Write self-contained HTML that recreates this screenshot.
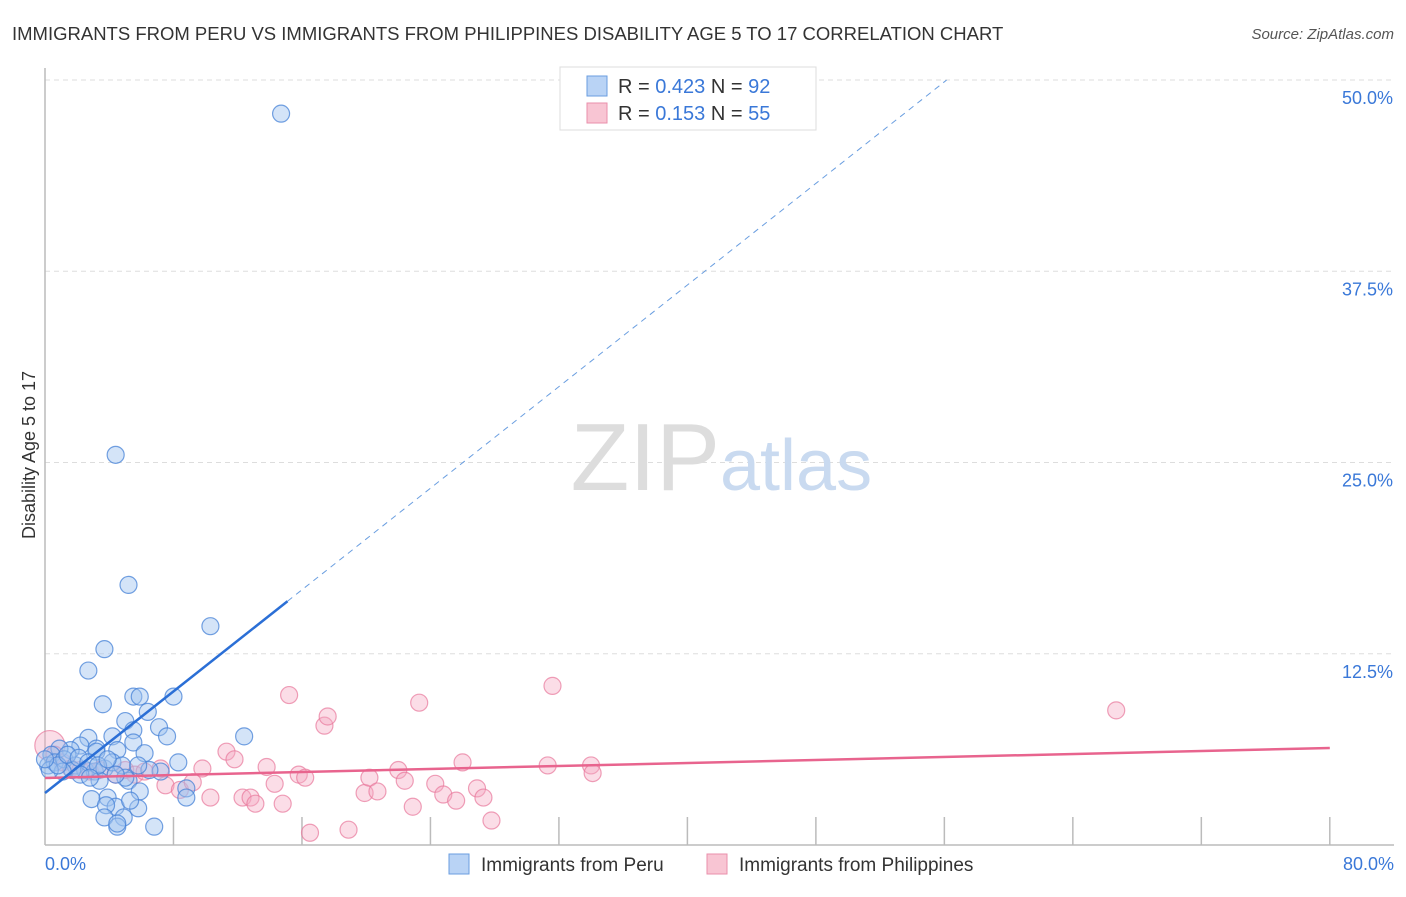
<!DOCTYPE html>
<html><head><meta charset="utf-8"><style>
body{margin:0;background:#fff;font-family:"Liberation Sans",sans-serif;}
svg text{font-family:"Liberation Sans",sans-serif;}
</style></head><body>
<svg width="1406" height="892" xmlns="http://www.w3.org/2000/svg">
<text x="12" y="40" font-size="18.5" fill="#333">IMMIGRANTS FROM PERU VS IMMIGRANTS FROM PHILIPPINES DISABILITY AGE 5 TO 17 CORRELATION CHART</text>
<text x="1394" y="39" font-size="15" fill="#555" font-style="italic" text-anchor="end">Source: ZipAtlas.com</text>
<g id="grid"></g>
<text x="720" y="490" font-size="96" fill="#ddd" text-anchor="end" font-family="Liberation Serif">ZIP</text>
<text x="720" y="490" font-size="72" fill="#c9daf0">atlas</text>
<line x1="45" y1="68" x2="45" y2="845" stroke="#bbb" stroke-width="1.5"/>
<line x1="45" y1="845" x2="1394" y2="845" stroke="#bbb" stroke-width="1.5"/>
<g id="ticks"></g>
<text x="35" y="455" font-size="18" fill="#333" text-anchor="middle" transform="rotate(-90 35 455)">Disability Age 5 to 17</text>
<text x="45" y="870" font-size="18" fill="#3a78d8">0.0%</text>
<text x="1394" y="870" font-size="18" fill="#3a78d8" text-anchor="end">80.0%</text>
<g id="pts"></g>
<g id="lines"></g>
<g>
<rect x="560" y="67" width="256" height="63" fill="#fff" stroke="#ddd"/>
<rect x="587" y="76" width="20" height="20" fill="#b9d3f5" stroke="#6a9ee0"/>
<rect x="587" y="103" width="20" height="20" fill="#f8c5d3" stroke="#ea8fab"/>
<text x="618" y="93" font-size="20" fill="#333">R = <tspan fill="#3a78d8">0.423</tspan>   N = <tspan fill="#3a78d8">92</tspan></text>
<text x="618" y="120" font-size="20" fill="#333">R =  <tspan fill="#3a78d8">0.153</tspan>   N = <tspan fill="#3a78d8">55</tspan></text>
</g>
<g>
<rect x="449" y="854" width="20" height="20" fill="#b9d3f5" stroke="#6a9ee0"/>
<text x="481" y="871" font-size="19" fill="#333">Immigrants from Peru</text>
<rect x="707" y="854" width="20" height="20" fill="#f8c5d3" stroke="#ea8fab"/>
<text x="739" y="871" font-size="19" fill="#333">Immigrants from Philippines</text>
</g>
</svg>
<script>
const yTicks=[12.5,25,37.5,50];
const yTickLabels=["12.5%","25.0%","37.5%","50.0%"];
const xTicks=[8,16,24,32,40,48,56,64,72,80];
const peruX=[14.7,4.4,5.2,10.3,3.7,2.7,3.6,5.5,5.9,8.0,5.0,6.4,5.5,7.1,7.6,12.4,4.2,2.7,2.2,3.2,4.5,5.5,6.2,8.3,8.8,3.2,1.6,0.9,0.4,0.2,0.6,1.2,1.9,2.5,3.1,3.7,4.2,4.8,5.2,5.9,2.9,3.9,4.4,3.8,3.7,4.9,4.5,4.5,6.8,8.8,7.2,6.5,5.8,5.0,3.4,1.7,1.1,0.3,0.8,1.4,2.1,2.7,3.3,3.9,2.2,2.8,4.4,5.8,5.3,0];
const peruY=[47.8,25.5,17.0,14.3,12.8,11.4,9.2,9.7,9.7,9.7,8.1,8.7,7.5,7.7,7.1,7.1,7.1,7.0,6.5,6.3,6.2,6.7,6.0,5.4,3.7,6.1,6.2,6.3,5.9,5.2,5.4,5.6,5.2,4.9,4.8,5.0,5.4,5.2,4.2,3.5,3.0,3.1,2.5,2.6,1.8,1.8,1.2,1.4,1.2,3.1,4.8,4.9,5.2,4.4,4.2,4.9,4.8,4.9,5.2,5.9,5.7,5.4,5.2,5.6,4.6,4.4,4.6,2.4,2.9,5.6];
const phX=[0.3,0.6,1.1,1.6,2.2,2.8,3.4,4.4,5.0,5.6,6.2,7.2,7.5,8.4,9.2,9.8,10.3,11.3,11.8,12.3,12.8,13.1,13.8,14.3,14.8,15.2,15.8,16.2,16.5,17.4,17.6,18.9,19.9,20.2,20.7,22.0,22.4,22.9,23.3,24.3,24.8,25.6,26.0,26.9,27.3,27.8,31.3,31.6,34.0,34.1,66.7];
const phY=[6.5,5.9,5.4,5.0,4.9,4.8,4.9,4.6,4.9,4.6,4.8,5.0,3.9,3.6,4.1,5.0,3.1,6.1,5.6,3.1,3.1,2.7,5.1,4.0,2.7,9.8,4.6,4.4,0.8,7.8,8.4,1.0,3.4,4.4,3.5,4.9,4.2,2.5,9.3,4.0,3.3,2.9,5.4,3.7,3.1,1.6,5.2,10.4,5.2,4.7,8.8];
const peruLine=[3.4,0.83];
const phLine=[4.38,0.0245];
const X=v=>45+v*16.06, Y=v=>845-v*15.3;
const NS="http://www.w3.org/2000/svg";
function mk(t,a,p){const e=document.createElementNS(NS,t);for(const k in a)e.setAttribute(k,a[k]);p.appendChild(e);return e;}
const grid=document.getElementById('grid');
yTicks.forEach((v,i)=>{
const l=mk('line',{x1:45,x2:1394,y1:Y(v),y2:Y(v),stroke:'#ddd','stroke-dasharray':'5,4'},grid);


const t=mk('text',{x:1393,y:Y(v)+24,'font-size':18,fill:'#3a78d8','text-anchor':'end'},grid);
t.textContent=yTickLabels[i];


});
const tk=document.getElementById('ticks');
xTicks.forEach(v=>{
const l=mk('line',{x1:X(v),x2:X(v),y1:817,y2:845,stroke:'#bbb','stroke-width':1.5},tk);


});
const pts=document.getElementById('pts');
phX.forEach((x,i)=>{
const c=mk('circle',{cx:X(x),cy:Y(phY[i]),r:i==0?15:8.5,fill:'rgba(244,170,195,0.4)',stroke:'rgba(232,120,155,0.7)','stroke-width':1.2},pts);


});
peruX.forEach((x,i)=>{
const c=mk('circle',{cx:X(x),cy:Y(peruY[i]),r:8.5,fill:'rgba(160,195,240,0.45)',stroke:'rgba(70,130,215,0.75)','stroke-width':1.2},pts);


});
const ln=document.getElementById('lines');
const pl=mk('line',{x1:X(0),y1:Y(phLine[0]),x2:X(80),y2:Y(phLine[0]+phLine[1]*80),stroke:'#e8648e','stroke-width':2.5},ln);


const xe=(50-peruLine[0])/peruLine[1];
const bl=mk('line',{x1:X(0),y1:Y(peruLine[0]),x2:X(15.1),y2:Y(peruLine[0]+peruLine[1]*15.1),stroke:'#2b6fd6','stroke-width':2.5},ln);


const bd=mk('line',{x1:X(15.1),y1:Y(peruLine[0]+peruLine[1]*15.1),x2:X(xe),y2:Y(50),stroke:'#6a9ee0','stroke-width':1,'stroke-dasharray':'6,5'},ln);


</script>
</body></html>
